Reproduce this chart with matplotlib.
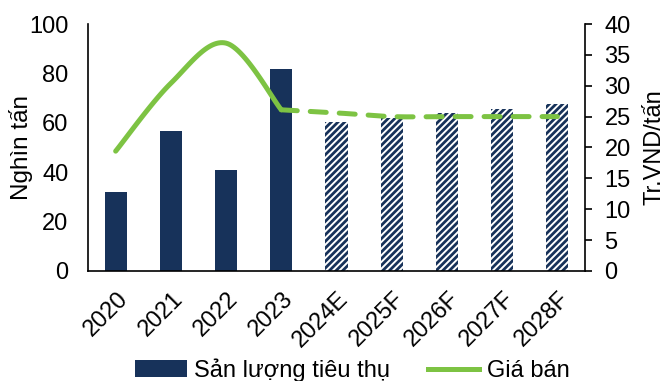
import numpy as np
import matplotlib
matplotlib.use('Agg')
import matplotlib.pyplot as plt
import matplotlib.transforms as mtransforms
from matplotlib.patches import Patch
from matplotlib.lines import Line2D

plt.rcParams['font.family'] = ['Liberation Sans', 'DejaVu Sans']
plt.rcParams['hatch.linewidth'] = 2.0

years = ['2020', '2021', '2022', '2023', '2024E', '2025F', '2026F', '2027F', '2028F']
san_luong = [32.1, 56.8, 40.9, 81.8, 60.4, 61.8, 63.8, 65.6, 67.6]
gia_ban_actual = [19.4, 30.4, 36.9, 26.1]
gia_ban_forecast = [26.1, 25.6, 25.0, 25.0, 25.0, 25.0]
n_actual = 4

navy = '#17325a'
green = '#7dc343'


def smooth(xs, ys, steps=30):
    # excel-like smoothed line (cubic bezier through the points)
    xs = np.asarray(xs, float)
    ys = np.asarray(ys, float)
    pts = np.column_stack([xs, ys])
    out = []
    for i in range(len(pts) - 1):
        p0 = pts[max(i - 1, 0)]
        p1 = pts[i]
        p2 = pts[i + 1]
        p3 = pts[min(i + 2, len(pts) - 1)]
        c1 = p1 + (p2 - p0) / 6
        c2 = p2 - (p3 - p1) / 6
        t = np.linspace(0, 1, steps)[:, None]
        seg = ((1 - t) ** 3) * p1 + 3 * ((1 - t) ** 2) * t * c1 + 3 * (1 - t) * t ** 2 * c2 + t ** 3 * p2
        out.append(seg if i == 0 else seg[1:])
    out = np.vstack(out)
    return out[:, 0], out[:, 1]


fig = plt.figure(figsize=(6.67, 3.81), dpi=100)
ax = fig.add_axes([0.132, 0.289, 0.745, 0.648])
ax2 = ax.twinx()

x = np.arange(len(years))
ax.bar(x[:n_actual], san_luong[:n_actual], width=0.4, color=navy, zorder=2)
ax.bar(x[n_actual:], san_luong[n_actual:], width=0.4, facecolor='white',
       edgecolor=navy, hatch='/////', linewidth=0, zorder=2)

sx, sy = smooth(x[:n_actual], gia_ban_actual)
ax2.plot(sx, sy, color=green, lw=3.6, solid_capstyle='round')
fx, fy = smooth(x[n_actual - 1:], gia_ban_forecast)
ax2.plot(fx, fy, color=green, lw=3.6, dashes=(3.2, 2.6), dash_capstyle='round')

ax.set_xlim(-0.5, len(years) - 0.5)
ax.set_ylim(0, 100)
ax.set_yticks(range(0, 101, 20))
ax2.set_ylim(0, 40)
ax2.set_yticks(range(0, 41, 5))

for s in ['top', 'right']:
    ax.spines[s].set_visible(False)
for s in ['top', 'left', 'bottom']:
    ax2.spines[s].set_visible(False)
ax.spines['left'].set_linewidth(1.2)
ax.spines['bottom'].set_linewidth(1.2)
ax2.spines['right'].set_linewidth(1.2)

ax.tick_params(axis='y', length=0, labelsize=17, pad=14)
ax.tick_params(axis='x', length=0, labelsize=17, pad=12)
ax2.tick_params(axis='y', length=5, width=1.2, labelsize=17, pad=9)

ax.set_xticks(x)
ax.set_xticklabels(years, rotation=45, ha='right', rotation_mode='anchor')
offset = mtransforms.ScaledTranslation(1 / 100, 0, fig.dpi_scale_trans)
for lbl in ax.get_xticklabels():
    lbl.set_transform(lbl.get_transform() + offset)

ax.set_ylabel('Nghìn tấn', fontsize=17.5, labelpad=-3)
ax2.set_ylabel('Tr.VND/tấn', fontsize=17, labelpad=9)

handles = [Patch(facecolor=navy), Line2D([0], [0], color=green, lw=3.6)]
fig.legend(handles, ['Sản lượng tiêu thụ', 'Giá bán'], loc='center',
           bbox_to_anchor=(352 / 667, 1 - 370 / 381), ncol=2, frameon=False,
           fontsize=17, handlelength=2.2, handletextpad=0.3, columnspacing=1.6)

fig.savefig('out.png', dpi=100)
